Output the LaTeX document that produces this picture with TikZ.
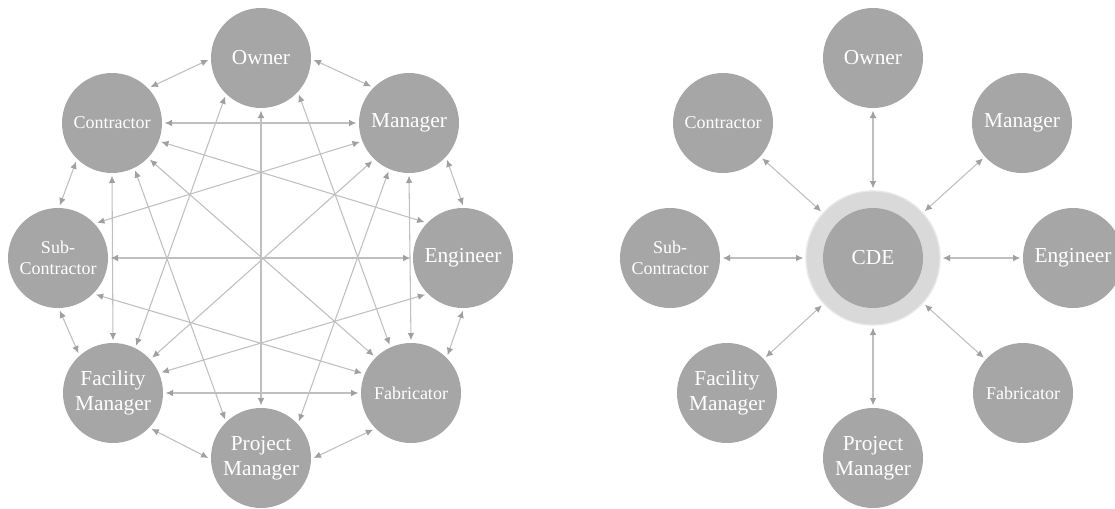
\documentclass[tikz,border=0pt]{standalone}
\usepackage{fontspec}
\setmainfont{Liberation Serif}
\usetikzlibrary{arrows.meta}
\definecolor{nodegray}{HTML}{A6A6A6}
\definecolor{linegray}{HTML}{BFBFBF}
\definecolor{headgray}{HTML}{A0A0A0}
\definecolor{ringgray}{HTML}{D9D9D9}

\begin{document}
\begin{tikzpicture}[x=0.75pt,y=0.75pt,yscale=-1,xscale=1,
    party/.style={circle,fill=nodegray,text=white,minimum size=75pt,inner sep=0pt,
        outer sep=2pt,align=center,font=\fontsize{16}{19}\selectfont},
    smalltext/.style={font=\fontsize{13.5}{16}\selectfont},
    link/.style={draw=linegray,line width=0.8pt,
        {Latex[length=5.5pt,width=5pt,color=headgray]}-{Latex[length=5.5pt,width=5pt,color=headgray]}}]

            \useasboundingbox (0,0) rectangle (1115,508);

            % Left: every party talks to the others
            \node [party] (owner)      at (261,58)  {Owner};
            \node [party,smalltext] (contractor) at (112,123) {Contractor};
            \node [party] (manager)    at (409,123) {Manager};
            \node [party,smalltext] (subcon) at (58,258) {Sub-\\Contractor};
            \node [party] (engineer)   at (463,258) {Engineer};
            \node [party] (facility)   at (113,393) {Facility\\Manager};
            \node [party,smalltext] (fabricator) at (411,393) {Fabricator};
            \node [party] (project)    at (261,458) {Project\\Manager};

            % Ring of neighbours
            \draw [link] (owner.182) -- (contractor.43);
            \draw [link] (owner.358) -- (manager.136);
            \draw [link] (manager.316) -- (engineer.90);
            \draw [link] (engineer.270) -- (fabricator.46);
            \draw [link] (fabricator.224) -- (project.0);
            \draw [link] (project.180) -- (facility.317);
            \draw [link] (facility.131) -- (subcon.272);
            \draw [link] (subcon.88) -- (contractor.227);

            % Cross links
            \draw [link] (owner.270) -- (project.90);
            \draw [link] (owner.227) -- (facility.64);
            \draw [link] (owner.316) -- (fabricator.114);
            \draw [link] (contractor.0) -- (manager.180);
            \draw [link] (contractor.339) -- (engineer.137);
            \draw [link] (contractor.316) -- (fabricator.135);
            \draw [link] (contractor.296) -- (project.133);
            \draw [link] (contractor.270) -- (facility.90);
            \draw [link] (manager.201) -- (subcon.42);
            \draw [link] (manager.226) -- (facility.42);
            \draw [link] (manager.247) -- (project.44);
            \draw [link] (manager.270) -- (fabricator.90);
            \draw [link] (engineer.180) -- (subcon.0);
            \draw [link] (engineer.224) -- (facility.23);
            \draw [link] (subcon.316) -- (fabricator.158);
            \draw [link] (facility.0) -- (fabricator.180);

            % Right: everything goes through the CDE
            \node [circle,fill=ringgray,draw=ringgray!60,line width=1pt,minimum size=100.5pt,
                outer sep=2pt] (cdering) at (873,258) {};
            \node [party] (cde) at (873,258) {CDE};

            \node [party] (owner2)      at (873,58)   {Owner};
            \node [party,smalltext] (contractor2) at (723,123) {Contractor};
            \node [party] (manager2)    at (1022,123) {Manager};
            \node [party,smalltext] (subcon2) at (670,258) {Sub-\\Contractor};
            \node [party] (engineer2)   at (1073,258) {Engineer};
            \node [party] (facility2)   at (727,393)  {Facility\\Manager};
            \node [party,smalltext] (fabricator2) at (1023,393) {Fabricator};
            \node [party] (project2)    at (873,458)  {Project\\Manager};

            \foreach \who in {owner2,contractor2,manager2,subcon2,engineer2,facility2,fabricator2,project2}
                \draw [link] (\who) -- (cdering);

            \end{tikzpicture}
\end{document}
